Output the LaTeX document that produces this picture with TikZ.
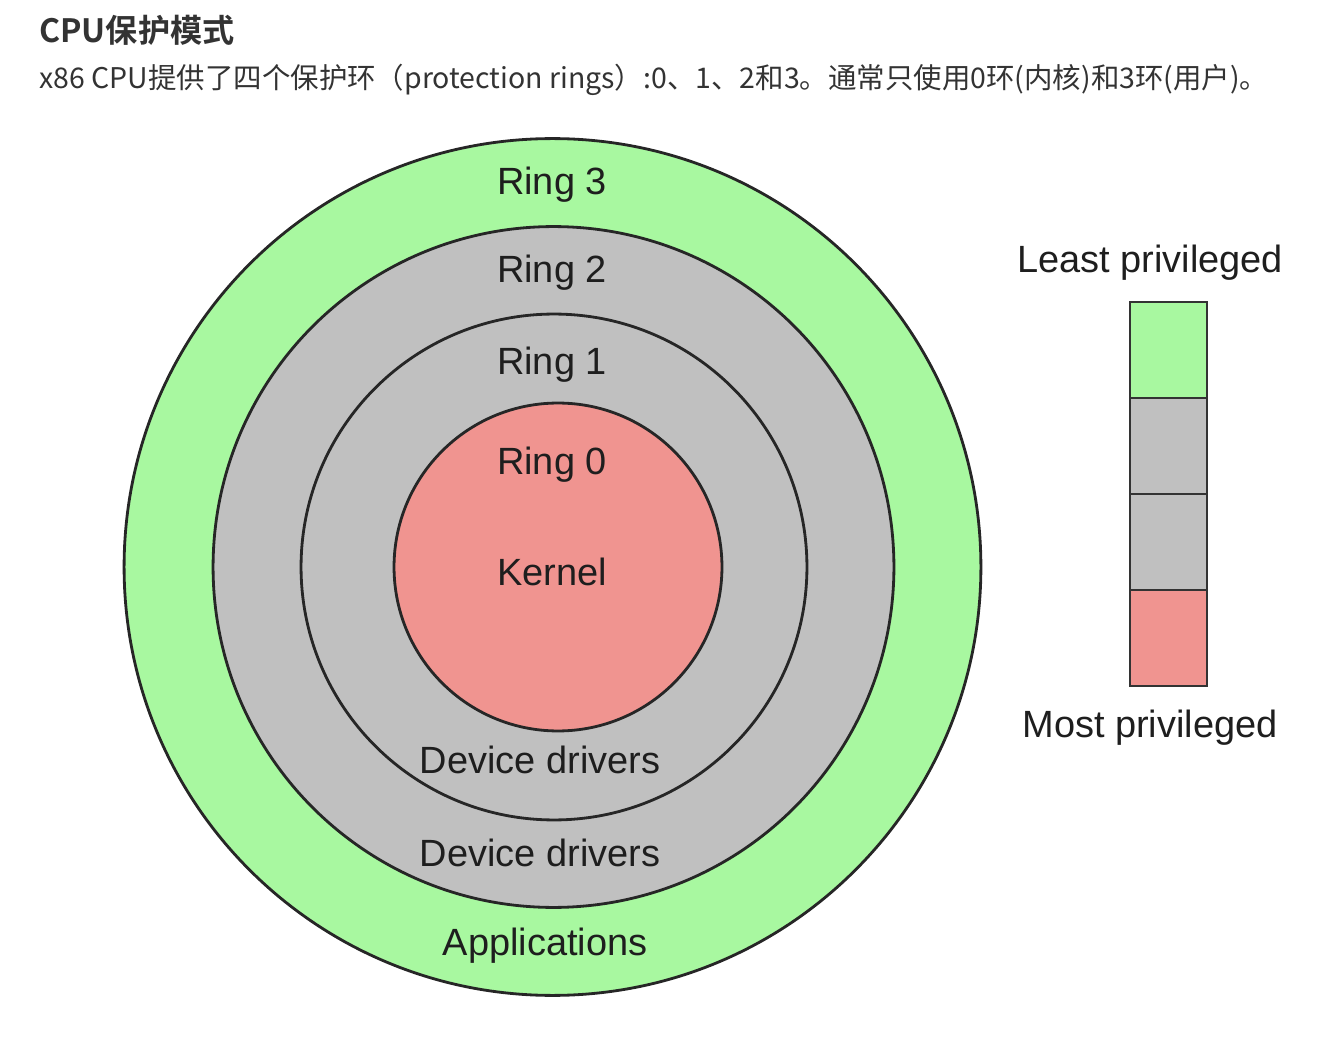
\documentclass[tikz,border=0pt]{standalone}
\usepackage{fontspec}
\setmainfont{Liberation Sans}
\newfontfamily\cjk[BoldFont={Noto Sans CJK SC Bold}]{Noto Sans CJK SC}
\usepackage{xcolor}
\usepackage{tikz}
\usetikzlibrary{positioning}
\definecolor{ringgreen}{HTML}{A8F8A0}
\definecolor{ringgray}{HTML}{C0C0C0}
\definecolor{ringred}{HTML}{F09490}
\definecolor{txtgray}{HTML}{1E1E1E}
\definecolor{headgray}{HTML}{333333}

\begin{document}
\begin{tikzpicture}[x=0.02cm,y=0.02cm,line width=1.6pt,
  ring/.style={circle,draw=black!85,inner sep=0pt},
  lbl/.style={font=\fontsize{21.6}{26}\selectfont,text=txtgray,inner sep=0pt},
  bar/.style={rectangle,draw=black!80,minimum width=1.54cm,minimum height=1.92cm,inner sep=0pt}]
\useasboundingbox (0,0) rectangle (1326,1036);
\node[anchor=west,inner sep=0pt,text=headgray,font=\cjk\bfseries\fontsize{18.3}{22}\selectfont] at (38,1006) (title){CPU保护模式};
\node[anchor=west,inner sep=0pt,text=headgray,font=\cjk\fontsize{16.2}{19}\selectfont] at (38,956) (intro){x86 CPU提供了四个保护环（protection rings）:0、1、2和3。通常只使用0环(内核)和3环(用户)。};

  % rings, outermost first
  \node[ring,fill=ringgreen,minimum size=17.14cm] at (552.5,469) (r3){};
  \node[ring,fill=ringgray,minimum size=13.62cm] at (553.5,469) (r2){};
  \node[ring,fill=ringgray,minimum size=10.12cm] at (554,469) (r1){};
  \node[ring,fill=ringred,minimum size=6.56cm] at (558,469) (r0){};

  \node[lbl] at (552,851) (l3){Ring 3};
  \node[lbl] at (552,763) (l2){Ring 2};
  \node[lbl] at (552,671) (l1){Ring 1};
  \node[lbl] at (552,571) (l0){Ring 0};
  \node[lbl] at (552,464) (kern){Kernel};
  \node[lbl] at (540,276) (dd1){Device drivers};
  \node[lbl] at (540,183) (dd2){Device drivers};
  \node[lbl] at (545,90) (apps){Applications};

  % privilege bar
  \node[bar,fill=ringgreen] at (1168.5,686) (b3){};
  \node[bar,fill=ringgray] at ([yshift=-1.92cm]b3) (b2){};
  \node[bar,fill=ringgray] at ([yshift=-1.92cm]b2) (b1){};
  \node[bar,fill=ringred] at ([yshift=-1.92cm]b1) (b0){};
  \node[lbl] at (1150,773) (least){Least privileged};
  \node[lbl] at (1150,308) (most){Most privileged};
\end{tikzpicture}
\end{document}
